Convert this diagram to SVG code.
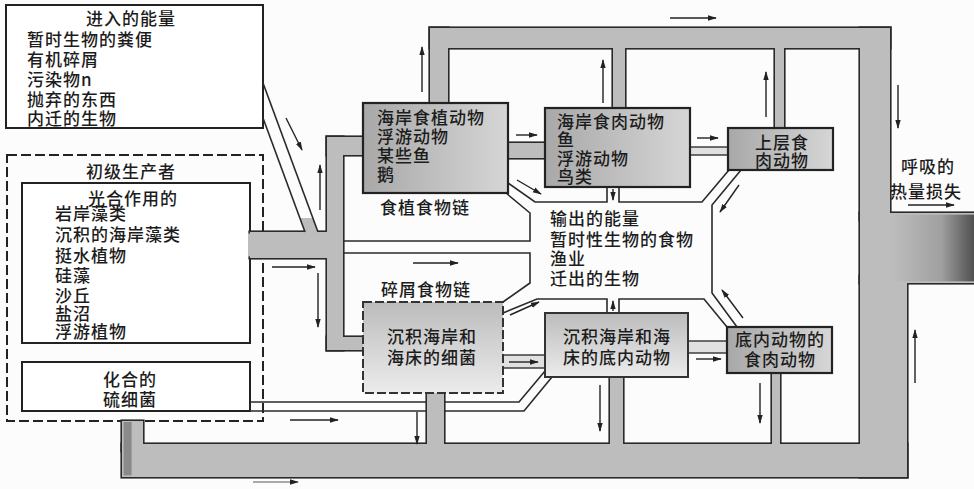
<svg xmlns="http://www.w3.org/2000/svg" width="974" height="489" viewBox="0 0 974 489">
<defs>
<style>
.t{font-family:"Noto Sans CJK SC","Noto Sans",sans-serif;font-size:17px;letter-spacing:1px;font-weight:500;fill:#1c1c1c}
.c{text-anchor:middle}
.ln{fill:none;stroke:#2a2a2a;stroke-width:1.6}
.box{fill:#fff;stroke:#222;stroke-width:2}
.dash{fill:none;stroke:#222;stroke-width:2;stroke-dasharray:10 4}
.node{fill:url(#ng);stroke:#222;stroke-width:2.2}
.nodel{fill:url(#nl);stroke:#333;stroke-width:2}
.lp{fill:#e0e0e0;stroke:#333;stroke-width:1.4}
.ar{stroke:#222;stroke-width:1.4;fill:none;marker-end:url(#ah)}
</style>
<marker id="ah" viewBox="0 0 10 6" refX="9" refY="3" markerWidth="9" markerHeight="6" markerUnits="userSpaceOnUse" orient="auto"><path d="M0,0 L10,3 L0,6 z" fill="#222"/></marker>
<linearGradient id="ng" x1="0" x2="1" y1="0" y2="0"><stop offset="0" stop-color="#a8a8a8"/><stop offset="1" stop-color="#d6d6d6"/></linearGradient>
<linearGradient id="nl" x1="0" x2="0" y1="0" y2="1"><stop offset="0" stop-color="#bcbcbc"/><stop offset="1" stop-color="#ececec"/></linearGradient>
<linearGradient id="ex" x1="0" x2="1" y1="0" y2="0"><stop offset="0" stop-color="#bdbdbd"/><stop offset="0.6" stop-color="#a0a0a0"/><stop offset="1" stop-color="#505050"/></linearGradient>
<g id="pipeShapes">
<rect x="430" y="28" width="460" height="20"/>
<rect x="430" y="28" width="18" height="76"/>
<rect x="613" y="40" width="12" height="69"/>
<rect x="775" y="40" width="9" height="89"/>
<rect x="860" y="28" width="30" height="192"/>
<rect x="860" y="213" width="124" height="70"/>
<rect x="860" y="276" width="47" height="201"/>
<rect x="122" y="444" width="785" height="33"/>
<rect x="122" y="421" width="21" height="30"/>
<rect x="427" y="393" width="17" height="58"/>
<rect x="610" y="377" width="13" height="74"/>
<rect x="772" y="373" width="8" height="78"/>
<rect x="250" y="232" width="85" height="26"/>
<rect x="327" y="137" width="16" height="213"/>
<rect x="327" y="137" width="38" height="18"/>
<rect x="327" y="337" width="38" height="13"/>
<rect x="506" y="143" width="41" height="15"/>
</g>
</defs>
<rect x="0" y="0" width="974" height="489" fill="#fcfcfc"/>

<g id="input-energy">
<rect class="box" x="6" y="5" width="257" height="123"/>
<text class="t c" x="131" y="25">进入的能量</text>
<text class="t" x="27" y="46">暂时生物的粪便</text>
<text class="t" x="27" y="66">有机碎屑</text>
<text class="t" x="27" y="86">污染物n</text>
<text class="t" x="27" y="106">抛弃的东西</text>
<text class="t" x="27" y="125">内迁的生物</text>
</g>

<g id="primary-producers">
<rect class="dash" x="7" y="155" width="256" height="266"/>
<text class="t c" x="131" y="178">初级生产者</text>
<g id="photosynthetic">
<rect class="box" x="22" y="183" width="228" height="160"/>
<text class="t c" x="133" y="205">光合作用的</text>
<text class="t" x="55" y="220">岩岸藻类</text>
<text class="t" x="55" y="241">沉积的海岸藻类</text>
<text class="t" x="55" y="262">挺水植物</text>
<text class="t" x="55" y="282">硅藻</text>
<text class="t" x="55" y="302">沙丘</text>
<text class="t" x="55" y="320">盐沼</text>
<text class="t" x="55" y="338">浮游植物</text>
</g>
<g id="chemosynthetic">
<rect class="box" x="22" y="362" width="228" height="49"/>
<text class="t c" x="130" y="386">化合的</text>
<text class="t c" x="130" y="406">硫细菌</text>
</g>
</g>

<g id="connectors">
<polyline class="ln" points="250,402 519,402 545,371"/>
<polyline class="ln" points="250,411 524,411 552,377"/>
<use href="#pipeShapes" fill="#2a2a2a" stroke="#2a2a2a" stroke-width="3.2"/>
<use href="#pipeShapes" fill="#bdbdbd"/>
<rect x="248" y="233.6" width="8" height="22.8" fill="#bdbdbd"/>
<polygon points="300,218 313,218 318,234 305,234" fill="#bdbdbd"/>
<rect x="892" y="214.6" width="82" height="66.8" fill="url(#ex)"/>
<rect x="123.6" y="422" width="8" height="53.4" fill="#8a8a8a"/>
<rect class="lp" x="688" y="147" width="42" height="8"/>
<rect class="lp" x="501" y="355" width="46" height="13"/>
<rect class="lp" x="686" y="341" width="43" height="12"/>
<line class="ln" x1="263" y1="83" x2="318" y2="232"/>
<line class="ln" x1="263" y1="118" x2="305" y2="232"/>
<polyline class="ln" points="343,241 530,241 530,213 506,193"/>
<polyline class="ln" points="508,183 535,202 607,202 607,187"/>
<polyline class="ln" points="619,187 619,202 702,202 729,170"/>
<polyline class="ln" points="741,170 712,205 712,293 737,327"/>
<polyline class="ln" points="619,313 619,299 704,299 727,327"/>
<polyline class="ln" points="607,313 607,299 537,299 503,313"/>
<polyline class="ln" points="343,253 530,253 530,283 503,302"/>
<line class="ar" x1="286" y1="118" x2="302" y2="150"/>
<line class="ar" x1="320" y1="210" x2="320" y2="165"/>
<line class="ar" x1="272" y1="267" x2="315" y2="267"/>
<line class="ar" x1="318" y1="273" x2="318" y2="327"/>
<line class="ar" x1="422" y1="92" x2="422" y2="47"/>
<line class="ar" x1="516" y1="135" x2="537" y2="135"/>
<line class="ar" x1="517" y1="180" x2="541" y2="194"/>
<line class="ar" x1="603" y1="103" x2="603" y2="60"/>
<line class="ar" x1="613" y1="189" x2="613" y2="200"/>
<line class="ar" x1="670" y1="18" x2="716" y2="18"/>
<line class="ar" x1="697" y1="138" x2="718" y2="138"/>
<line class="ar" x1="766" y1="117" x2="766" y2="72"/>
<line class="ar" x1="898" y1="85" x2="898" y2="128"/>
<line class="ar" x1="908" y1="205" x2="954" y2="205"/>
<line class="ar" x1="739" y1="185" x2="720" y2="212"/>
<line class="ar" x1="413" y1="263" x2="458" y2="263"/>
<line class="ar" x1="510" y1="315" x2="539" y2="302"/>
<line class="ar" x1="613" y1="311" x2="613" y2="301"/>
<line class="ar" x1="509" y1="362" x2="538" y2="362"/>
<line class="ar" x1="696" y1="359" x2="721" y2="359"/>
<line class="ar" x1="743" y1="318" x2="722" y2="290"/>
<line class="ar" x1="760" y1="383" x2="760" y2="423"/>
<line class="ar" x1="600" y1="385" x2="600" y2="431"/>
<line class="ar" x1="417" y1="412" x2="417" y2="444"/>
<line class="ar" x1="290" y1="420" x2="338" y2="420"/>
<line class="ar" x1="915" y1="383" x2="915" y2="330"/>
<line class="ar" x1="253" y1="482" x2="298" y2="482" stroke-opacity="0.5"/>
</g>

<g id="herbivores">
<rect class="node" x="363" y="103" width="145" height="90"/>
<text class="t" x="377" y="124">海岸食植动物</text>
<text class="t" x="377" y="143">浮游动物</text>
<text class="t" x="377" y="162">某些鱼</text>
<text class="t" x="377" y="181">鹅</text>
</g>
<g id="carnivores">
<rect class="node" x="545" y="108" width="145" height="79"/>
<text class="t" x="557" y="128">海岸食肉动物</text>
<text class="t" x="557" y="146">鱼</text>
<text class="t" x="557" y="165">浮游动物</text>
<text class="t" x="557" y="183">鸟类</text>
</g>
<g id="top-carnivores">
<rect class="node" x="728" y="128" width="105" height="42"/>
<text class="t c" x="782" y="149">上层食</text>
<text class="t c" x="782" y="167">肉动物</text>
</g>
<g id="bacteria">
<rect class="nodel" x="363" y="302" width="140" height="91" stroke-dasharray="9 3"/>
<text class="t c" x="432" y="343">沉积海岸和</text>
<text class="t c" x="432" y="364">海床的细菌</text>
</g>
<g id="infauna">
<rect class="nodel" x="545" y="313" width="143" height="64"/>
<text class="t c" x="617" y="343">沉积海岸和海</text>
<text class="t c" x="617" y="364">床的底内动物</text>
</g>
<g id="infauna-carnivores">
<rect class="node" x="727" y="327" width="105" height="46"/>
<text class="t c" x="780" y="346">底内动物的</text>
<text class="t c" x="780" y="366">食肉动物</text>
</g>

<g id="labels">
<text class="t" x="380" y="214">食植食物链</text>
<text class="t" x="381" y="296">碎屑食物链</text>
</g>
<g id="output-energy">
<text class="t" x="550" y="225">输出的能量</text>
<text class="t" x="550" y="246">暂时性生物的食物</text>
<text class="t" x="550" y="265">渔业</text>
<text class="t" x="550" y="285">迁出的生物</text>
</g>
<g id="heat-loss">
<text class="t c" x="928" y="173">呼吸的</text>
<text class="t c" x="926" y="198">热量损失</text>
</g>
</svg>
